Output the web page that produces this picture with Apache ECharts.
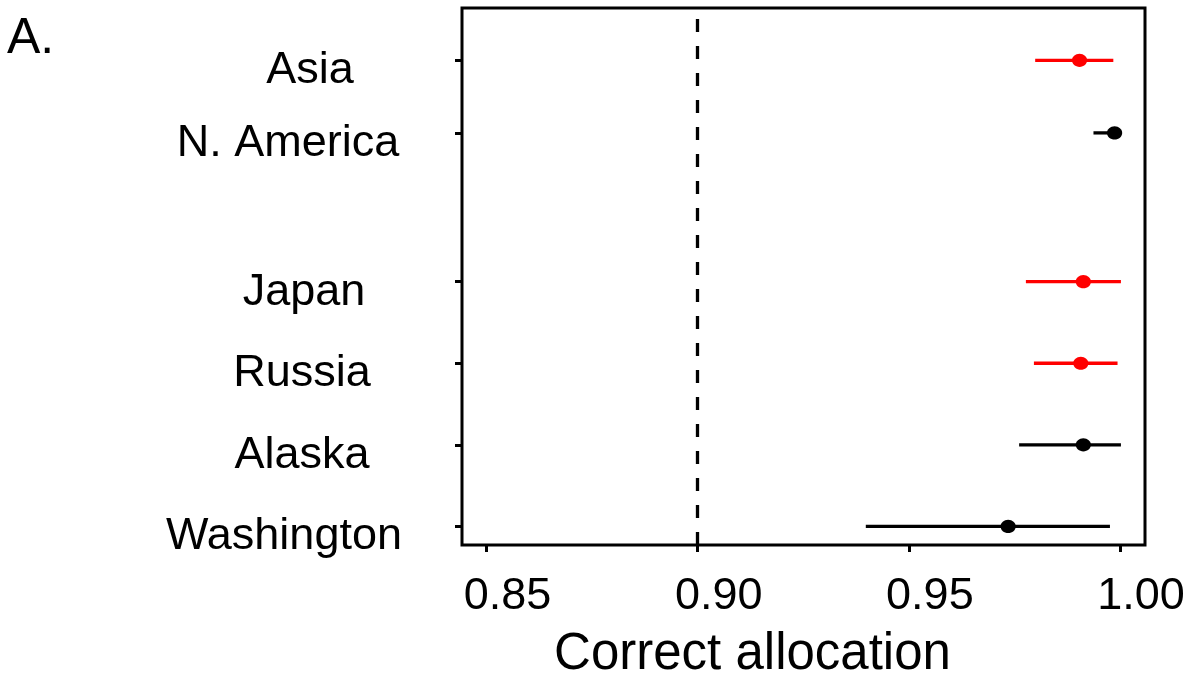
<!DOCTYPE html>
<html>
<head>
<meta charset="utf-8">
<script src="https://cdn.jsdelivr.net/npm/echarts@6/dist/echarts.min.js"></script>
<style>
html,body{margin:0;padding:0;background:#fff;}
#chart{width:1193px;height:681px;}
</style>
</head>
<body>
<div id="chart"></div>
<script>
// ---- data ----
var regions = ['Asia', 'N. America', 'Japan', 'Russia', 'Alaska', 'Washington'];
var rowPos = [5.714, 4.824, 3, 2, 1, 0];
var means = [0.9904, 0.9987, 0.9913, 0.9907, 0.9913, 0.9735];
var lower = [0.9799, 0.9937, 0.9777, 0.9796, 0.9761, 0.9398];
var upper = [0.9984, 0.9995, 1.0002, 0.9994, 1.0002, 0.9976];
var groupIdx = [0, 1, 0, 0, 1, 1]; // 0 = red group, 1 = black group
var xTicks = [0.85, 0.90, 0.95, 1.00];
var refLine = 0.90;

// ---- styles ----
var colors = ['#ff0000', '#000000'];
var FONT = '"Liberation Sans", Arial, sans-serif';
var labelShift = [12, -10, 6, 4, 4, -14]; // horizontal nudges of the row labels (px)

var rich = {};
labelShift.forEach(function (s, i) {
  rich['s' + i] = {
    fontFamily: FONT, fontSize: 45, color: '#000',
    padding: [0, s < 0 ? -2 * s : 0, 0, s > 0 ? 2 * s : 0]
  };
});

var seriesData = regions.map(function (r, i) {
  return [means[i], lower[i], upper[i], rowPos[i], groupIdx[i]];
});

var chart = echarts.init(document.getElementById('chart'), null, {renderer: 'canvas'});
chart.setOption({
  animation: false,
  backgroundColor: '#ffffff',
  title: {
    text: 'A.',
    left: 2,
    top: 9,
    textStyle: {fontFamily: FONT, fontSize: 50, fontWeight: 'normal', color: '#000'}
  },
  grid: {
    left: 462, top: 8, width: 683, height: 537,
    outerBoundsMode: 'none',
    containLabel: false,
    show: true, borderColor: '#000', borderWidth: 3, backgroundColor: 'transparent'
  },
  xAxis: {
    type: 'value',
    min: 0.8442, max: 1.0059,
    splitLine: {show: false},
    axisLine: {show: false, onZero: false},
    axisTick: {show: true, customValues: xTicks, length: 7, inside: false, lineStyle: {color: '#000', width: 3}},
    axisLabel: {
      customValues: xTicks, margin: 29,
      fontFamily: FONT, fontSize: 45, color: '#000',
      padding: [0, 0, 0, 42],
      formatter: function (v) { return v.toFixed(2); }
    },
    name: 'Correct allocation',
    nameLocation: 'middle',
    nameGap: 84,
    nameTextStyle: {fontFamily: FONT, fontSize: 51, color: '#000', padding: [0, 102, 0, 0]}
  },
  yAxis: {
    type: 'value',
    min: -0.228, max: 6.355,
    splitLine: {show: false},
    axisLine: {show: false, onZero: false},
    axisTick: {show: true, customValues: rowPos, length: 7, lineStyle: {color: '#000', width: 3}},
    axisLabel: {
      customValues: rowPos, margin: 164, align: 'center',
      fontFamily: FONT, fontSize: 45, color: '#000',
      padding: [21, 0, 0, 0],
      rich: rich,
      formatter: function (v) {
        for (var i = 0; i < rowPos.length; i++) {
          if (Math.abs(rowPos[i] - v) < 0.01) return '{s' + i + '|' + regions[i] + '}';
        }
        return '';
      }
    }
  },
  series: [{
    type: 'custom',
    data: seriesData,
    renderItem: function (params, api) {
      var y = api.value(3);
      var pLo = api.coord([api.value(1), y]);
      var pHi = api.coord([api.value(2), y]);
      var pC = api.coord([api.value(0), y]);
      var col = colors[api.value(4)];
      return {
        type: 'group',
        children: [
          {type: 'line', shape: {x1: pLo[0], y1: pLo[1], x2: pHi[0], y2: pHi[1]}, style: {stroke: col, lineWidth: 3.3}},
          {type: 'ellipse', shape: {cx: pC[0], cy: pC[1], rx: 7.6, ry: 6.6}, style: {fill: col}}
        ]
      };
    },
    markLine: {
      silent: true,
      symbol: 'none',
      label: {show: false},
      lineStyle: {color: '#000', width: 3.3, type: [13, 14]},
      data: [{xAxis: refLine}]
    }
  }]
});
</script>
</body>
</html>
